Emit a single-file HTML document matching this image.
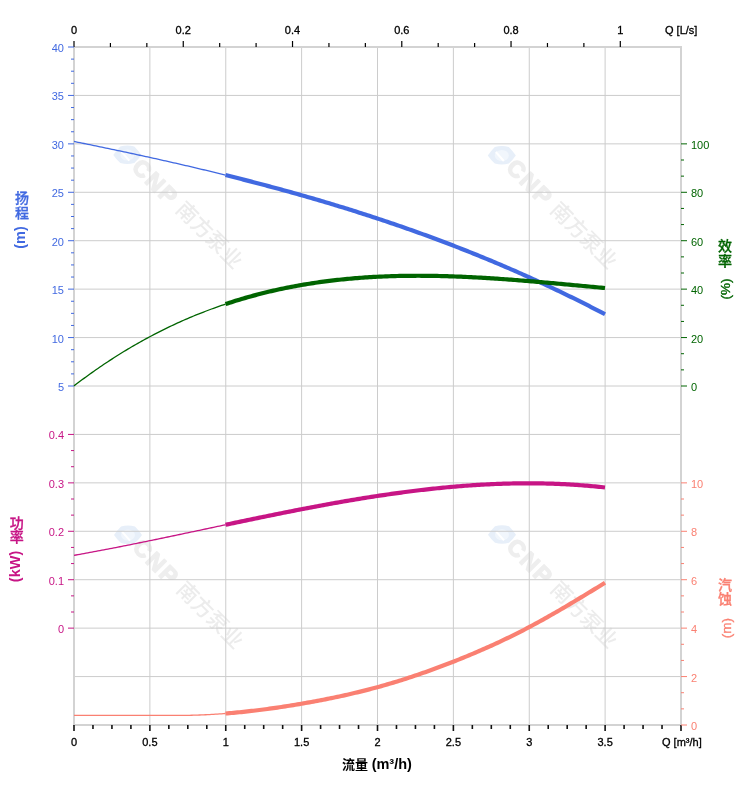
<!DOCTYPE html>
<html><head><meta charset="utf-8"><title>chart</title>
<style>html,body{margin:0;padding:0;background:#fff;}svg{display:block;}</style>
</head><body>
<svg width="752" height="797" viewBox="0 0 752 797">
<rect width="752" height="797" fill="#fff"/>
<g transform="translate(127.3,154.6)"><path d="M-14,0.5 Q-11,-4 -7,-8 Q0,-10 7,-8 Q11,-4 14,0.5 Q11,5 7,8.5 Q0,10.5 -7,8.5 Q-11,5 -14,0.5Z" fill="#e7eff9"/><ellipse cx="0" cy="0.5" rx="7" ry="5.5" fill="#f1f6fc"/><path d="M-6,-3 L2,6" stroke="#ffffff" stroke-width="2"/><g transform="rotate(45)"><text x="12" y="7.5" font-family="'Liberation Sans', sans-serif" font-weight="bold" font-size="23" letter-spacing="2.2" fill="#eeeeee" stroke="#eeeeee" stroke-width="1.4" stroke-linejoin="round">CNP</text><text x="73" y="6.2" font-family="'Liberation Sans', 'Noto Sans CJK SC', sans-serif" font-weight="500" font-size="21" fill="#ececec">南方泵业</text></g></g>
<g transform="translate(501.8,155)"><path d="M-14,0.5 Q-11,-4 -7,-8 Q0,-10 7,-8 Q11,-4 14,0.5 Q11,5 7,8.5 Q0,10.5 -7,8.5 Q-11,5 -14,0.5Z" fill="#e7eff9"/><ellipse cx="0" cy="0.5" rx="7" ry="5.5" fill="#f1f6fc"/><path d="M-6,-3 L2,6" stroke="#ffffff" stroke-width="2"/><g transform="rotate(45)"><text x="12" y="7.5" font-family="'Liberation Sans', sans-serif" font-weight="bold" font-size="23" letter-spacing="2.2" fill="#eeeeee" stroke="#eeeeee" stroke-width="1.4" stroke-linejoin="round">CNP</text><text x="73" y="6.2" font-family="'Liberation Sans', 'Noto Sans CJK SC', sans-serif" font-weight="500" font-size="21" fill="#ececec">南方泵业</text></g></g>
<g transform="translate(128,534.6)"><path d="M-14,0.5 Q-11,-4 -7,-8 Q0,-10 7,-8 Q11,-4 14,0.5 Q11,5 7,8.5 Q0,10.5 -7,8.5 Q-11,5 -14,0.5Z" fill="#e7eff9"/><ellipse cx="0" cy="0.5" rx="7" ry="5.5" fill="#f1f6fc"/><path d="M-6,-3 L2,6" stroke="#ffffff" stroke-width="2"/><g transform="rotate(45)"><text x="12" y="7.5" font-family="'Liberation Sans', sans-serif" font-weight="bold" font-size="23" letter-spacing="2.2" fill="#eeeeee" stroke="#eeeeee" stroke-width="1.4" stroke-linejoin="round">CNP</text><text x="73" y="6.2" font-family="'Liberation Sans', 'Noto Sans CJK SC', sans-serif" font-weight="500" font-size="21" fill="#ececec">南方泵业</text></g></g>
<g transform="translate(502,534.3)"><path d="M-14,0.5 Q-11,-4 -7,-8 Q0,-10 7,-8 Q11,-4 14,0.5 Q11,5 7,8.5 Q0,10.5 -7,8.5 Q-11,5 -14,0.5Z" fill="#e7eff9"/><ellipse cx="0" cy="0.5" rx="7" ry="5.5" fill="#f1f6fc"/><path d="M-6,-3 L2,6" stroke="#ffffff" stroke-width="2"/><g transform="rotate(45)"><text x="12" y="7.5" font-family="'Liberation Sans', sans-serif" font-weight="bold" font-size="23" letter-spacing="2.2" fill="#eeeeee" stroke="#eeeeee" stroke-width="1.4" stroke-linejoin="round">CNP</text><text x="73" y="6.2" font-family="'Liberation Sans', 'Noto Sans CJK SC', sans-serif" font-weight="500" font-size="21" fill="#ececec">南方泵业</text></g></g>
<line x1="74.0" y1="95.43" x2="681.0" y2="95.43" stroke="#cccccc" stroke-width="1"/>
<line x1="74.0" y1="143.86" x2="681.0" y2="143.86" stroke="#cccccc" stroke-width="1"/>
<line x1="74.0" y1="192.29" x2="681.0" y2="192.29" stroke="#cccccc" stroke-width="1"/>
<line x1="74.0" y1="240.71" x2="681.0" y2="240.71" stroke="#cccccc" stroke-width="1"/>
<line x1="74.0" y1="289.14" x2="681.0" y2="289.14" stroke="#cccccc" stroke-width="1"/>
<line x1="74.0" y1="337.57" x2="681.0" y2="337.57" stroke="#cccccc" stroke-width="1"/>
<line x1="74.0" y1="386.00" x2="681.0" y2="386.00" stroke="#cccccc" stroke-width="1"/>
<line x1="74.0" y1="434.43" x2="681.0" y2="434.43" stroke="#cccccc" stroke-width="1"/>
<line x1="74.0" y1="482.86" x2="681.0" y2="482.86" stroke="#cccccc" stroke-width="1"/>
<line x1="74.0" y1="531.29" x2="681.0" y2="531.29" stroke="#cccccc" stroke-width="1"/>
<line x1="74.0" y1="579.71" x2="681.0" y2="579.71" stroke="#cccccc" stroke-width="1"/>
<line x1="74.0" y1="628.14" x2="681.0" y2="628.14" stroke="#cccccc" stroke-width="1"/>
<line x1="74.0" y1="676.57" x2="681.0" y2="676.57" stroke="#cccccc" stroke-width="1"/>
<line x1="149.88" y1="47.0" x2="149.88" y2="725.0" stroke="#cccccc" stroke-width="1"/>
<line x1="225.75" y1="47.0" x2="225.75" y2="725.0" stroke="#cccccc" stroke-width="1"/>
<line x1="301.62" y1="47.0" x2="301.62" y2="725.0" stroke="#cccccc" stroke-width="1"/>
<line x1="377.50" y1="47.0" x2="377.50" y2="725.0" stroke="#cccccc" stroke-width="1"/>
<line x1="453.38" y1="47.0" x2="453.38" y2="725.0" stroke="#cccccc" stroke-width="1"/>
<line x1="529.25" y1="47.0" x2="529.25" y2="725.0" stroke="#cccccc" stroke-width="1"/>
<line x1="605.12" y1="47.0" x2="605.12" y2="725.0" stroke="#cccccc" stroke-width="1"/>
<rect x="73" y="46" width="2" height="680" fill="#d3d3d3"/>
<rect x="680" y="46" width="2" height="680" fill="#d3d3d3"/>
<rect x="73" y="46" width="609" height="2" fill="#d3d3d3"/>
<rect x="73" y="724" width="609" height="2" fill="#d3d3d3"/>
<line x1="74.00" y1="41.0" x2="74.00" y2="47.0" stroke="#000" stroke-width="1.2"/>
<line x1="110.42" y1="43.0" x2="110.42" y2="47.0" stroke="#000" stroke-width="1.2"/>
<line x1="146.84" y1="43.0" x2="146.84" y2="47.0" stroke="#000" stroke-width="1.2"/>
<line x1="183.26" y1="41.0" x2="183.26" y2="47.0" stroke="#000" stroke-width="1.2"/>
<line x1="219.68" y1="43.0" x2="219.68" y2="47.0" stroke="#000" stroke-width="1.2"/>
<line x1="256.10" y1="43.0" x2="256.10" y2="47.0" stroke="#000" stroke-width="1.2"/>
<line x1="292.52" y1="41.0" x2="292.52" y2="47.0" stroke="#000" stroke-width="1.2"/>
<line x1="328.94" y1="43.0" x2="328.94" y2="47.0" stroke="#000" stroke-width="1.2"/>
<line x1="365.36" y1="43.0" x2="365.36" y2="47.0" stroke="#000" stroke-width="1.2"/>
<line x1="401.78" y1="41.0" x2="401.78" y2="47.0" stroke="#000" stroke-width="1.2"/>
<line x1="438.20" y1="43.0" x2="438.20" y2="47.0" stroke="#000" stroke-width="1.2"/>
<line x1="474.62" y1="43.0" x2="474.62" y2="47.0" stroke="#000" stroke-width="1.2"/>
<line x1="511.04" y1="41.0" x2="511.04" y2="47.0" stroke="#000" stroke-width="1.2"/>
<line x1="547.46" y1="43.0" x2="547.46" y2="47.0" stroke="#000" stroke-width="1.2"/>
<line x1="583.88" y1="43.0" x2="583.88" y2="47.0" stroke="#000" stroke-width="1.2"/>
<line x1="620.30" y1="41.0" x2="620.30" y2="47.0" stroke="#000" stroke-width="1.2"/>
<line x1="74.00" y1="725.0" x2="74.00" y2="731.0" stroke="#111" stroke-width="1.6"/>
<line x1="92.97" y1="725.0" x2="92.97" y2="729.0" stroke="#111" stroke-width="1.6"/>
<line x1="111.94" y1="725.0" x2="111.94" y2="729.0" stroke="#111" stroke-width="1.6"/>
<line x1="130.91" y1="725.0" x2="130.91" y2="729.0" stroke="#111" stroke-width="1.6"/>
<line x1="149.88" y1="725.0" x2="149.88" y2="731.0" stroke="#111" stroke-width="1.6"/>
<line x1="168.84" y1="725.0" x2="168.84" y2="729.0" stroke="#111" stroke-width="1.6"/>
<line x1="187.81" y1="725.0" x2="187.81" y2="729.0" stroke="#111" stroke-width="1.6"/>
<line x1="206.78" y1="725.0" x2="206.78" y2="729.0" stroke="#111" stroke-width="1.6"/>
<line x1="225.75" y1="725.0" x2="225.75" y2="731.0" stroke="#111" stroke-width="1.6"/>
<line x1="244.72" y1="725.0" x2="244.72" y2="729.0" stroke="#111" stroke-width="1.6"/>
<line x1="263.69" y1="725.0" x2="263.69" y2="729.0" stroke="#111" stroke-width="1.6"/>
<line x1="282.66" y1="725.0" x2="282.66" y2="729.0" stroke="#111" stroke-width="1.6"/>
<line x1="301.62" y1="725.0" x2="301.62" y2="731.0" stroke="#111" stroke-width="1.6"/>
<line x1="320.59" y1="725.0" x2="320.59" y2="729.0" stroke="#111" stroke-width="1.6"/>
<line x1="339.56" y1="725.0" x2="339.56" y2="729.0" stroke="#111" stroke-width="1.6"/>
<line x1="358.53" y1="725.0" x2="358.53" y2="729.0" stroke="#111" stroke-width="1.6"/>
<line x1="377.50" y1="725.0" x2="377.50" y2="731.0" stroke="#111" stroke-width="1.6"/>
<line x1="396.47" y1="725.0" x2="396.47" y2="729.0" stroke="#111" stroke-width="1.6"/>
<line x1="415.44" y1="725.0" x2="415.44" y2="729.0" stroke="#111" stroke-width="1.6"/>
<line x1="434.41" y1="725.0" x2="434.41" y2="729.0" stroke="#111" stroke-width="1.6"/>
<line x1="453.38" y1="725.0" x2="453.38" y2="731.0" stroke="#111" stroke-width="1.6"/>
<line x1="472.34" y1="725.0" x2="472.34" y2="729.0" stroke="#111" stroke-width="1.6"/>
<line x1="491.31" y1="725.0" x2="491.31" y2="729.0" stroke="#111" stroke-width="1.6"/>
<line x1="510.28" y1="725.0" x2="510.28" y2="729.0" stroke="#111" stroke-width="1.6"/>
<line x1="529.25" y1="725.0" x2="529.25" y2="731.0" stroke="#111" stroke-width="1.6"/>
<line x1="548.22" y1="725.0" x2="548.22" y2="729.0" stroke="#111" stroke-width="1.6"/>
<line x1="567.19" y1="725.0" x2="567.19" y2="729.0" stroke="#111" stroke-width="1.6"/>
<line x1="586.16" y1="725.0" x2="586.16" y2="729.0" stroke="#111" stroke-width="1.6"/>
<line x1="605.12" y1="725.0" x2="605.12" y2="731.0" stroke="#111" stroke-width="1.6"/>
<line x1="624.09" y1="725.0" x2="624.09" y2="729.0" stroke="#111" stroke-width="1.6"/>
<line x1="643.06" y1="725.0" x2="643.06" y2="729.0" stroke="#111" stroke-width="1.6"/>
<line x1="662.03" y1="725.0" x2="662.03" y2="729.0" stroke="#111" stroke-width="1.6"/>
<line x1="681.00" y1="725.0" x2="681.00" y2="731.0" stroke="#111" stroke-width="1.6"/>
<line x1="68.0" y1="47.00" x2="74.0" y2="47.00" stroke="#4169e1" stroke-width="1"/>
<line x1="71.0" y1="59.11" x2="74.0" y2="59.11" stroke="#4169e1" stroke-width="1"/>
<line x1="71.0" y1="71.21" x2="74.0" y2="71.21" stroke="#4169e1" stroke-width="1"/>
<line x1="71.0" y1="83.32" x2="74.0" y2="83.32" stroke="#4169e1" stroke-width="1"/>
<line x1="68.0" y1="95.43" x2="74.0" y2="95.43" stroke="#4169e1" stroke-width="1"/>
<line x1="71.0" y1="107.54" x2="74.0" y2="107.54" stroke="#4169e1" stroke-width="1"/>
<line x1="71.0" y1="119.64" x2="74.0" y2="119.64" stroke="#4169e1" stroke-width="1"/>
<line x1="71.0" y1="131.75" x2="74.0" y2="131.75" stroke="#4169e1" stroke-width="1"/>
<line x1="68.0" y1="143.86" x2="74.0" y2="143.86" stroke="#4169e1" stroke-width="1"/>
<line x1="71.0" y1="155.96" x2="74.0" y2="155.96" stroke="#4169e1" stroke-width="1"/>
<line x1="71.0" y1="168.07" x2="74.0" y2="168.07" stroke="#4169e1" stroke-width="1"/>
<line x1="71.0" y1="180.18" x2="74.0" y2="180.18" stroke="#4169e1" stroke-width="1"/>
<line x1="68.0" y1="192.29" x2="74.0" y2="192.29" stroke="#4169e1" stroke-width="1"/>
<line x1="71.0" y1="204.39" x2="74.0" y2="204.39" stroke="#4169e1" stroke-width="1"/>
<line x1="71.0" y1="216.50" x2="74.0" y2="216.50" stroke="#4169e1" stroke-width="1"/>
<line x1="71.0" y1="228.61" x2="74.0" y2="228.61" stroke="#4169e1" stroke-width="1"/>
<line x1="68.0" y1="240.71" x2="74.0" y2="240.71" stroke="#4169e1" stroke-width="1"/>
<line x1="71.0" y1="252.82" x2="74.0" y2="252.82" stroke="#4169e1" stroke-width="1"/>
<line x1="71.0" y1="264.93" x2="74.0" y2="264.93" stroke="#4169e1" stroke-width="1"/>
<line x1="71.0" y1="277.04" x2="74.0" y2="277.04" stroke="#4169e1" stroke-width="1"/>
<line x1="68.0" y1="289.14" x2="74.0" y2="289.14" stroke="#4169e1" stroke-width="1"/>
<line x1="71.0" y1="301.25" x2="74.0" y2="301.25" stroke="#4169e1" stroke-width="1"/>
<line x1="71.0" y1="313.36" x2="74.0" y2="313.36" stroke="#4169e1" stroke-width="1"/>
<line x1="71.0" y1="325.46" x2="74.0" y2="325.46" stroke="#4169e1" stroke-width="1"/>
<line x1="68.0" y1="337.57" x2="74.0" y2="337.57" stroke="#4169e1" stroke-width="1"/>
<line x1="71.0" y1="349.68" x2="74.0" y2="349.68" stroke="#4169e1" stroke-width="1"/>
<line x1="71.0" y1="361.79" x2="74.0" y2="361.79" stroke="#4169e1" stroke-width="1"/>
<line x1="71.0" y1="373.89" x2="74.0" y2="373.89" stroke="#4169e1" stroke-width="1"/>
<line x1="68.0" y1="386.00" x2="74.0" y2="386.00" stroke="#4169e1" stroke-width="1"/>
<line x1="68.0" y1="434.43" x2="74.0" y2="434.43" stroke="#c71585" stroke-width="1"/>
<line x1="71.0" y1="450.57" x2="74.0" y2="450.57" stroke="#c71585" stroke-width="1"/>
<line x1="71.0" y1="466.71" x2="74.0" y2="466.71" stroke="#c71585" stroke-width="1"/>
<line x1="68.0" y1="482.86" x2="74.0" y2="482.86" stroke="#c71585" stroke-width="1"/>
<line x1="71.0" y1="499.00" x2="74.0" y2="499.00" stroke="#c71585" stroke-width="1"/>
<line x1="71.0" y1="515.14" x2="74.0" y2="515.14" stroke="#c71585" stroke-width="1"/>
<line x1="68.0" y1="531.29" x2="74.0" y2="531.29" stroke="#c71585" stroke-width="1"/>
<line x1="71.0" y1="547.43" x2="74.0" y2="547.43" stroke="#c71585" stroke-width="1"/>
<line x1="71.0" y1="563.57" x2="74.0" y2="563.57" stroke="#c71585" stroke-width="1"/>
<line x1="68.0" y1="579.71" x2="74.0" y2="579.71" stroke="#c71585" stroke-width="1"/>
<line x1="71.0" y1="595.86" x2="74.0" y2="595.86" stroke="#c71585" stroke-width="1"/>
<line x1="71.0" y1="612.00" x2="74.0" y2="612.00" stroke="#c71585" stroke-width="1"/>
<line x1="68.0" y1="628.14" x2="74.0" y2="628.14" stroke="#c71585" stroke-width="1"/>
<line x1="681.0" y1="143.86" x2="687.0" y2="143.86" stroke="#006400" stroke-width="1"/>
<line x1="681.0" y1="160.00" x2="684.0" y2="160.00" stroke="#006400" stroke-width="1"/>
<line x1="681.0" y1="176.14" x2="684.0" y2="176.14" stroke="#006400" stroke-width="1"/>
<line x1="681.0" y1="192.29" x2="687.0" y2="192.29" stroke="#006400" stroke-width="1"/>
<line x1="681.0" y1="208.43" x2="684.0" y2="208.43" stroke="#006400" stroke-width="1"/>
<line x1="681.0" y1="224.57" x2="684.0" y2="224.57" stroke="#006400" stroke-width="1"/>
<line x1="681.0" y1="240.71" x2="687.0" y2="240.71" stroke="#006400" stroke-width="1"/>
<line x1="681.0" y1="256.86" x2="684.0" y2="256.86" stroke="#006400" stroke-width="1"/>
<line x1="681.0" y1="273.00" x2="684.0" y2="273.00" stroke="#006400" stroke-width="1"/>
<line x1="681.0" y1="289.14" x2="687.0" y2="289.14" stroke="#006400" stroke-width="1"/>
<line x1="681.0" y1="305.29" x2="684.0" y2="305.29" stroke="#006400" stroke-width="1"/>
<line x1="681.0" y1="321.43" x2="684.0" y2="321.43" stroke="#006400" stroke-width="1"/>
<line x1="681.0" y1="337.57" x2="687.0" y2="337.57" stroke="#006400" stroke-width="1"/>
<line x1="681.0" y1="353.71" x2="684.0" y2="353.71" stroke="#006400" stroke-width="1"/>
<line x1="681.0" y1="369.86" x2="684.0" y2="369.86" stroke="#006400" stroke-width="1"/>
<line x1="681.0" y1="386.00" x2="687.0" y2="386.00" stroke="#006400" stroke-width="1"/>
<line x1="681.0" y1="482.86" x2="687.0" y2="482.86" stroke="#fa8072" stroke-width="1"/>
<line x1="681.0" y1="499.00" x2="684.0" y2="499.00" stroke="#fa8072" stroke-width="1"/>
<line x1="681.0" y1="515.14" x2="684.0" y2="515.14" stroke="#fa8072" stroke-width="1"/>
<line x1="681.0" y1="531.29" x2="687.0" y2="531.29" stroke="#fa8072" stroke-width="1"/>
<line x1="681.0" y1="547.43" x2="684.0" y2="547.43" stroke="#fa8072" stroke-width="1"/>
<line x1="681.0" y1="563.57" x2="684.0" y2="563.57" stroke="#fa8072" stroke-width="1"/>
<line x1="681.0" y1="579.71" x2="687.0" y2="579.71" stroke="#fa8072" stroke-width="1"/>
<line x1="681.0" y1="595.86" x2="684.0" y2="595.86" stroke="#fa8072" stroke-width="1"/>
<line x1="681.0" y1="612.00" x2="684.0" y2="612.00" stroke="#fa8072" stroke-width="1"/>
<line x1="681.0" y1="628.14" x2="687.0" y2="628.14" stroke="#fa8072" stroke-width="1"/>
<line x1="681.0" y1="644.29" x2="684.0" y2="644.29" stroke="#fa8072" stroke-width="1"/>
<line x1="681.0" y1="660.43" x2="684.0" y2="660.43" stroke="#fa8072" stroke-width="1"/>
<line x1="681.0" y1="676.57" x2="687.0" y2="676.57" stroke="#fa8072" stroke-width="1"/>
<line x1="681.0" y1="692.71" x2="684.0" y2="692.71" stroke="#fa8072" stroke-width="1"/>
<line x1="681.0" y1="708.86" x2="684.0" y2="708.86" stroke="#fa8072" stroke-width="1"/>
<line x1="681.0" y1="725.00" x2="687.0" y2="725.00" stroke="#fa8072" stroke-width="1"/>
<text x="74.00" y="34" font-family="'Liberation Sans', Arial, sans-serif" font-size="11" fill="#000" stroke="#000" stroke-width="0.3" text-anchor="middle">0</text>
<text x="183.26" y="34" font-family="'Liberation Sans', Arial, sans-serif" font-size="11" fill="#000" stroke="#000" stroke-width="0.3" text-anchor="middle">0.2</text>
<text x="292.52" y="34" font-family="'Liberation Sans', Arial, sans-serif" font-size="11" fill="#000" stroke="#000" stroke-width="0.3" text-anchor="middle">0.4</text>
<text x="401.78" y="34" font-family="'Liberation Sans', Arial, sans-serif" font-size="11" fill="#000" stroke="#000" stroke-width="0.3" text-anchor="middle">0.6</text>
<text x="511.04" y="34" font-family="'Liberation Sans', Arial, sans-serif" font-size="11" fill="#000" stroke="#000" stroke-width="0.3" text-anchor="middle">0.8</text>
<text x="620.30" y="34" font-family="'Liberation Sans', Arial, sans-serif" font-size="11" fill="#000" stroke="#000" stroke-width="0.3" text-anchor="middle">1</text>
<text x="665" y="34" font-family="'Liberation Sans', Arial, sans-serif" font-size="11" fill="#000" stroke="#000" stroke-width="0.3">Q [L/s]</text>
<text x="74.00" y="746" font-family="'Liberation Sans', Arial, sans-serif" font-size="11" fill="#000" stroke="#000" stroke-width="0.3" text-anchor="middle">0</text>
<text x="149.88" y="746" font-family="'Liberation Sans', Arial, sans-serif" font-size="11" fill="#000" stroke="#000" stroke-width="0.3" text-anchor="middle">0.5</text>
<text x="225.75" y="746" font-family="'Liberation Sans', Arial, sans-serif" font-size="11" fill="#000" stroke="#000" stroke-width="0.3" text-anchor="middle">1</text>
<text x="301.62" y="746" font-family="'Liberation Sans', Arial, sans-serif" font-size="11" fill="#000" stroke="#000" stroke-width="0.3" text-anchor="middle">1.5</text>
<text x="377.50" y="746" font-family="'Liberation Sans', Arial, sans-serif" font-size="11" fill="#000" stroke="#000" stroke-width="0.3" text-anchor="middle">2</text>
<text x="453.38" y="746" font-family="'Liberation Sans', Arial, sans-serif" font-size="11" fill="#000" stroke="#000" stroke-width="0.3" text-anchor="middle">2.5</text>
<text x="529.25" y="746" font-family="'Liberation Sans', Arial, sans-serif" font-size="11" fill="#000" stroke="#000" stroke-width="0.3" text-anchor="middle">3</text>
<text x="605.12" y="746" font-family="'Liberation Sans', Arial, sans-serif" font-size="11" fill="#000" stroke="#000" stroke-width="0.3" text-anchor="middle">3.5</text>
<text x="662" y="746" font-family="'Liberation Sans', Arial, sans-serif" font-size="11" fill="#000" stroke="#000" stroke-width="0.3">Q [m³/h]</text>
<text x="64" y="52.00" font-family="'Liberation Sans', Arial, sans-serif" font-size="11" fill="#4169e1" text-anchor="end">40</text>
<text x="64" y="100.43" font-family="'Liberation Sans', Arial, sans-serif" font-size="11" fill="#4169e1" text-anchor="end">35</text>
<text x="64" y="148.86" font-family="'Liberation Sans', Arial, sans-serif" font-size="11" fill="#4169e1" text-anchor="end">30</text>
<text x="64" y="197.29" font-family="'Liberation Sans', Arial, sans-serif" font-size="11" fill="#4169e1" text-anchor="end">25</text>
<text x="64" y="245.71" font-family="'Liberation Sans', Arial, sans-serif" font-size="11" fill="#4169e1" text-anchor="end">20</text>
<text x="64" y="294.14" font-family="'Liberation Sans', Arial, sans-serif" font-size="11" fill="#4169e1" text-anchor="end">15</text>
<text x="64" y="342.57" font-family="'Liberation Sans', Arial, sans-serif" font-size="11" fill="#4169e1" text-anchor="end">10</text>
<text x="64" y="391.00" font-family="'Liberation Sans', Arial, sans-serif" font-size="11" fill="#4169e1" text-anchor="end">5</text>
<text x="64" y="439.43" font-family="'Liberation Sans', Arial, sans-serif" font-size="11" fill="#c71585" text-anchor="end">0.4</text>
<text x="64" y="487.86" font-family="'Liberation Sans', Arial, sans-serif" font-size="11" fill="#c71585" text-anchor="end">0.3</text>
<text x="64" y="536.29" font-family="'Liberation Sans', Arial, sans-serif" font-size="11" fill="#c71585" text-anchor="end">0.2</text>
<text x="64" y="584.71" font-family="'Liberation Sans', Arial, sans-serif" font-size="11" fill="#c71585" text-anchor="end">0.1</text>
<text x="64" y="633.14" font-family="'Liberation Sans', Arial, sans-serif" font-size="11" fill="#c71585" text-anchor="end">0</text>
<text x="691" y="148.86" font-family="'Liberation Sans', Arial, sans-serif" font-size="11" fill="#006400">100</text>
<text x="691" y="197.29" font-family="'Liberation Sans', Arial, sans-serif" font-size="11" fill="#006400">80</text>
<text x="691" y="245.71" font-family="'Liberation Sans', Arial, sans-serif" font-size="11" fill="#006400">60</text>
<text x="691" y="294.14" font-family="'Liberation Sans', Arial, sans-serif" font-size="11" fill="#006400">40</text>
<text x="691" y="342.57" font-family="'Liberation Sans', Arial, sans-serif" font-size="11" fill="#006400">20</text>
<text x="691" y="391.00" font-family="'Liberation Sans', Arial, sans-serif" font-size="11" fill="#006400">0</text>
<text x="691" y="487.86" font-family="'Liberation Sans', Arial, sans-serif" font-size="11" fill="#fa8072">10</text>
<text x="691" y="536.29" font-family="'Liberation Sans', Arial, sans-serif" font-size="11" fill="#fa8072">8</text>
<text x="691" y="584.71" font-family="'Liberation Sans', Arial, sans-serif" font-size="11" fill="#fa8072">6</text>
<text x="691" y="633.14" font-family="'Liberation Sans', Arial, sans-serif" font-size="11" fill="#fa8072">4</text>
<text x="691" y="681.57" font-family="'Liberation Sans', Arial, sans-serif" font-size="11" fill="#fa8072">2</text>
<text x="691" y="730.00" font-family="'Liberation Sans', Arial, sans-serif" font-size="11" fill="#fa8072">0</text>
<text x="22.1" y="203.0" font-family="'Liberation Sans', 'Noto Sans CJK SC', sans-serif" font-weight="500" font-size="14" fill="#4169e1" stroke="#4169e1" stroke-width="0.3" text-anchor="middle">扬</text>
<text x="22.1" y="218.0" font-family="'Liberation Sans', 'Noto Sans CJK SC', sans-serif" font-weight="500" font-size="14" fill="#4169e1" stroke="#4169e1" stroke-width="0.3" text-anchor="middle">程</text>
<text transform="translate(25.17,237.50) rotate(-90)" font-family="'Liberation Sans', sans-serif" font-weight="bold" font-size="14.5" fill="#4169e1" stroke="#4169e1" stroke-width="0" text-anchor="middle">(m)</text>
<text x="16.8" y="527.7" font-family="'Liberation Sans', 'Noto Sans CJK SC', sans-serif" font-weight="500" font-size="14" fill="#c71585" stroke="#c71585" stroke-width="0.3" text-anchor="middle">功</text>
<text x="16.8" y="542.0" font-family="'Liberation Sans', 'Noto Sans CJK SC', sans-serif" font-weight="500" font-size="14" fill="#c71585" stroke="#c71585" stroke-width="0.3" text-anchor="middle">率</text>
<text transform="translate(20.27,566.50) rotate(-90)" font-family="'Liberation Sans', sans-serif" font-weight="bold" font-size="14.5" fill="#c71585" stroke="#c71585" stroke-width="0" text-anchor="middle">(kW)</text>
<text x="724.9" y="251.2" font-family="'Liberation Sans', 'Noto Sans CJK SC', sans-serif" font-weight="500" font-size="14" fill="#006400" stroke="#006400" stroke-width="0.3" text-anchor="middle">效</text>
<text x="724.9" y="266.1" font-family="'Liberation Sans', 'Noto Sans CJK SC', sans-serif" font-weight="500" font-size="14" fill="#006400" stroke="#006400" stroke-width="0.3" text-anchor="middle">率</text>
<text transform="translate(730.41,288.90) rotate(-90)" font-family="'Liberation Sans', sans-serif" font-weight="normal" font-size="13.5" fill="#006400" stroke="#006400" stroke-width="0.35" text-anchor="middle">(%)</text>
<text x="725.1" y="590.0" font-family="'Liberation Sans', 'Noto Sans CJK SC', sans-serif" font-weight="500" font-size="14" fill="#fa8072" stroke="#fa8072" stroke-width="0.3" text-anchor="middle">汽</text>
<text x="725.1" y="603.8" font-family="'Liberation Sans', 'Noto Sans CJK SC', sans-serif" font-weight="500" font-size="14" fill="#fa8072" stroke="#fa8072" stroke-width="0.3" text-anchor="middle">蚀</text>
<text transform="translate(730.51,628.00) rotate(-90)" font-family="'Liberation Sans', sans-serif" font-weight="normal" font-size="13.5" fill="#fa8072" stroke="#fa8072" stroke-width="0.35" text-anchor="middle">(m)</text>
<text x="342" y="769" font-family="'Liberation Sans', 'Noto Sans CJK SC', sans-serif" font-weight="bold" font-size="13" fill="#000">流量 <tspan font-size="14.5">(m³/h)</tspan></text>
<path d="M74.00,715.30L75.99,715.30L77.99,715.30L79.98,715.30L81.97,715.30L83.97,715.30L85.96,715.30L87.95,715.29L89.95,715.29L91.94,715.29L93.93,715.29L95.93,715.29L97.92,715.29L99.91,715.29L101.91,715.29L103.90,715.30L105.89,715.30L107.89,715.30L109.88,715.30L111.88,715.30L113.87,715.30L115.86,715.30L117.86,715.31L119.85,715.31L121.84,715.31L123.84,715.32L125.83,715.32L127.82,715.32L129.82,715.33L131.81,715.33L133.80,715.34L135.80,715.34L137.79,715.35L139.78,715.36L141.78,715.36L143.77,715.37L145.76,715.38L147.76,715.39L149.75,715.40L151.74,715.41L153.74,715.42L155.73,715.43L157.72,715.44L159.72,715.45L161.71,715.46L163.70,715.46L165.70,715.47L167.69,715.47L169.68,715.47L171.68,715.47L173.67,715.47L175.66,715.46L177.66,715.45L179.65,715.43L181.64,715.42L183.64,715.39L185.63,715.36L187.62,715.33L189.62,715.29L191.61,715.25L193.61,715.20L195.60,715.15L197.59,715.08L199.59,715.02L201.58,714.94L203.57,714.86L205.57,714.77L207.56,714.67L209.55,714.56L211.55,714.45L213.54,714.34L215.53,714.21L217.53,714.08L219.52,713.95L221.51,713.80L223.51,713.65L225.50,713.50" fill="none" stroke="#fa8072" stroke-width="1.3"/>
<path d="M225.50,713.50L227.50,713.34L229.49,713.17L231.49,713.00L233.49,712.82L235.49,712.64L237.48,712.45L239.48,712.25L241.48,712.05L243.48,711.84L245.47,711.63L247.47,711.41L249.47,711.19L251.47,710.96L253.46,710.73L255.46,710.49L257.46,710.25L259.46,710.00L261.45,709.75L263.45,709.49L265.45,709.23L267.44,708.96L269.44,708.69L271.44,708.41L273.44,708.13L275.43,707.84L277.43,707.55L279.43,707.26L281.43,706.96L283.42,706.65L285.42,706.34L287.42,706.03L289.42,705.71L291.41,705.39L293.41,705.07L295.41,704.74L297.41,704.41L299.40,704.07L301.40,703.73L303.40,703.39L305.39,703.04L307.39,702.69L309.39,702.33L311.39,701.97L313.38,701.61L315.38,701.24L317.38,700.87L319.38,700.49L321.37,700.11L323.37,699.72L325.37,699.33L327.37,698.93L329.36,698.53L331.36,698.13L333.36,697.71L335.36,697.30L337.35,696.88L339.35,696.45L341.35,696.02L343.34,695.58L345.34,695.14L347.34,694.69L349.34,694.23L351.33,693.77L353.33,693.31L355.33,692.83L357.33,692.36L359.32,691.87L361.32,691.38L363.32,690.88L365.32,690.38L367.31,689.87L369.31,689.35L371.31,688.83L373.31,688.30L375.30,687.76L377.30,687.22L379.30,686.67L381.29,686.11L383.29,685.54L385.29,684.97L387.29,684.39L389.28,683.81L391.28,683.22L393.28,682.62L395.28,682.01L397.27,681.40L399.27,680.78L401.27,680.15L403.27,679.52L405.26,678.88L407.26,678.24L409.26,677.59L411.26,676.93L413.25,676.27L415.25,675.60L417.25,674.92L419.24,674.24L421.24,673.55L423.24,672.85L425.24,672.15L427.23,671.44L429.23,670.73L431.23,670.01L433.23,669.29L435.22,668.56L437.22,667.82L439.22,667.08L441.22,666.33L443.21,665.58L445.21,664.82L447.21,664.05L449.21,663.28L451.20,662.50L453.20,661.72L455.20,660.93L457.19,660.14L459.19,659.34L461.19,658.54L463.19,657.73L465.18,656.91L467.18,656.09L469.18,655.26L471.18,654.43L473.17,653.59L475.17,652.74L477.17,651.89L479.17,651.03L481.16,650.16L483.16,649.28L485.16,648.40L487.16,647.52L489.15,646.62L491.15,645.72L493.15,644.81L495.14,643.90L497.14,642.98L499.14,642.05L501.14,641.11L503.13,640.16L505.13,639.21L507.13,638.25L509.13,637.28L511.12,636.31L513.12,635.32L515.12,634.33L517.12,633.33L519.11,632.32L521.11,631.30L523.11,630.28L525.11,629.24L527.10,628.20L529.10,627.15L531.10,626.09L533.09,625.02L535.09,623.94L537.09,622.86L539.09,621.76L541.08,620.66L543.08,619.55L545.08,618.44L547.08,617.32L549.07,616.19L551.07,615.05L553.07,613.91L555.07,612.76L557.06,611.61L559.06,610.45L561.06,609.29L563.06,608.12L565.05,606.94L567.05,605.77L569.05,604.58L571.04,603.39L573.04,602.20L575.04,601.01L577.04,599.81L579.03,598.61L581.03,597.40L583.03,596.20L585.03,594.99L587.02,593.78L589.02,592.56L591.02,591.34L593.02,590.13L595.01,588.91L597.01,587.69L599.01,586.47L601.01,585.24L603.00,584.02L605.00,582.80" fill="none" stroke="#fa8072" stroke-width="4.2" stroke-linecap="butt" stroke-linejoin="round"/>
<path d="M74.00,555.35L75.99,554.99L77.99,554.64L79.98,554.28L81.97,553.92L83.97,553.56L85.96,553.20L87.95,552.83L89.95,552.47L91.94,552.10L93.93,551.73L95.93,551.36L97.92,550.98L99.91,550.60L101.91,550.23L103.90,549.85L105.89,549.47L107.89,549.08L109.88,548.70L111.88,548.31L113.87,547.93L115.86,547.54L117.86,547.15L119.85,546.75L121.84,546.36L123.84,545.97L125.83,545.57L127.82,545.17L129.82,544.77L131.81,544.38L133.80,543.97L135.80,543.57L137.79,543.17L139.78,542.76L141.78,542.36L143.77,541.95L145.76,541.54L147.76,541.14L149.75,540.73L151.74,540.32L153.74,539.91L155.73,539.49L157.72,539.08L159.72,538.67L161.71,538.25L163.70,537.84L165.70,537.42L167.69,537.00L169.68,536.59L171.68,536.17L173.67,535.75L175.66,535.33L177.66,534.91L179.65,534.49L181.64,534.07L183.64,533.65L185.63,533.23L187.62,532.81L189.62,532.39L191.61,531.97L193.61,531.54L195.60,531.12L197.59,530.70L199.59,530.28L201.58,529.85L203.57,529.43L205.57,529.01L207.56,528.59L209.55,528.16L211.55,527.74L213.54,527.32L215.53,526.89L217.53,526.47L219.52,526.05L221.51,525.63L223.51,525.21L225.50,524.78" fill="none" stroke="#c71585" stroke-width="1.3"/>
<path d="M225.50,524.78L227.50,524.36L229.49,523.94L231.49,523.52L233.49,523.10L235.49,522.68L237.48,522.26L239.48,521.84L241.48,521.42L243.48,521.00L245.47,520.58L247.47,520.17L249.47,519.75L251.47,519.33L253.46,518.92L255.46,518.51L257.46,518.09L259.46,517.68L261.45,517.27L263.45,516.86L265.45,516.45L267.44,516.04L269.44,515.63L271.44,515.22L273.44,514.82L275.43,514.41L277.43,514.01L279.43,513.61L281.43,513.21L283.42,512.81L285.42,512.41L287.42,512.01L289.42,511.61L291.41,511.22L293.41,510.83L295.41,510.43L297.41,510.04L299.40,509.65L301.40,509.27L303.40,508.88L305.39,508.50L307.39,508.11L309.39,507.73L311.39,507.35L313.38,506.98L315.38,506.60L317.38,506.23L319.38,505.85L321.37,505.48L323.37,505.11L325.37,504.75L327.37,504.38L329.36,504.02L331.36,503.66L333.36,503.30L335.36,502.94L337.35,502.59L339.35,502.24L341.35,501.89L343.34,501.54L345.34,501.19L347.34,500.85L349.34,500.51L351.33,500.17L353.33,499.83L355.33,499.50L357.33,499.17L359.32,498.84L361.32,498.51L363.32,498.19L365.32,497.87L367.31,497.55L369.31,497.23L371.31,496.92L373.31,496.61L375.30,496.30L377.30,495.99L379.30,495.69L381.29,495.39L383.29,495.09L385.29,494.80L387.29,494.51L389.28,494.22L391.28,493.93L393.28,493.65L395.28,493.37L397.27,493.09L399.27,492.82L401.27,492.55L403.27,492.28L405.26,492.02L407.26,491.76L409.26,491.50L411.26,491.25L413.25,491.00L415.25,490.75L417.25,490.51L419.24,490.27L421.24,490.03L423.24,489.80L425.24,489.57L427.23,489.34L429.23,489.12L431.23,488.90L433.23,488.69L435.22,488.47L437.22,488.27L439.22,488.06L441.22,487.86L443.21,487.67L445.21,487.47L447.21,487.28L449.21,487.10L451.20,486.92L453.20,486.74L455.20,486.57L457.19,486.40L459.19,486.24L461.19,486.08L463.19,485.92L465.18,485.77L467.18,485.62L469.18,485.48L471.18,485.34L473.17,485.20L475.17,485.07L477.17,484.95L479.17,484.82L481.16,484.71L483.16,484.59L485.16,484.48L487.16,484.38L489.15,484.28L491.15,484.19L493.15,484.10L495.14,484.01L497.14,483.93L499.14,483.85L501.14,483.78L503.13,483.72L505.13,483.66L507.13,483.60L509.13,483.55L511.12,483.50L513.12,483.46L515.12,483.42L517.12,483.39L519.11,483.36L521.11,483.34L523.11,483.33L525.11,483.31L527.10,483.31L529.10,483.31L531.10,483.31L533.09,483.32L535.09,483.34L537.09,483.36L539.09,483.38L541.08,483.41L543.08,483.45L545.08,483.49L547.08,483.54L549.07,483.59L551.07,483.65L553.07,483.72L555.07,483.79L557.06,483.86L559.06,483.94L561.06,484.03L563.06,484.12L565.05,484.22L567.05,484.33L569.05,484.44L571.04,484.55L573.04,484.68L575.04,484.81L577.04,484.94L579.03,485.08L581.03,485.23L583.03,485.38L585.03,485.54L587.02,485.70L589.02,485.87L591.02,486.05L593.02,486.24L595.01,486.43L597.01,486.62L599.01,486.82L601.01,487.03L603.00,487.25L605.00,487.47" fill="none" stroke="#c71585" stroke-width="4.2" stroke-linecap="butt" stroke-linejoin="round"/>
<path d="M74.00,141.47L75.99,141.87L77.99,142.28L79.98,142.68L81.97,143.09L83.97,143.49L85.96,143.90L87.95,144.31L89.95,144.72L91.94,145.13L93.93,145.54L95.93,145.95L97.92,146.36L99.91,146.78L101.91,147.19L103.90,147.61L105.89,148.02L107.89,148.44L109.88,148.86L111.88,149.27L113.87,149.69L115.86,150.11L117.86,150.54L119.85,150.96L121.84,151.38L123.84,151.81L125.83,152.23L127.82,152.66L129.82,153.08L131.81,153.51L133.80,153.94L135.80,154.37L137.79,154.81L139.78,155.24L141.78,155.67L143.77,156.11L145.76,156.54L147.76,156.98L149.75,157.42L151.74,157.86L153.74,158.30L155.73,158.74L157.72,159.19L159.72,159.63L161.71,160.08L163.70,160.52L165.70,160.97L167.69,161.42L169.68,161.87L171.68,162.32L173.67,162.78L175.66,163.23L177.66,163.69L179.65,164.15L181.64,164.61L183.64,165.07L185.63,165.53L187.62,165.99L189.62,166.46L191.61,166.92L193.61,167.39L195.60,167.86L197.59,168.33L199.59,168.80L201.58,169.27L203.57,169.75L205.57,170.23L207.56,170.70L209.55,171.18L211.55,171.66L213.54,172.15L215.53,172.63L217.53,173.12L219.52,173.61L221.51,174.09L223.51,174.59L225.50,175.08" fill="none" stroke="#4169e1" stroke-width="1.3"/>
<path d="M225.50,175.08L227.50,175.57L229.49,176.07L231.49,176.57L233.49,177.07L235.49,177.57L237.48,178.07L239.48,178.58L241.48,179.09L243.48,179.60L245.47,180.11L247.47,180.62L249.47,181.13L251.47,181.65L253.46,182.17L255.46,182.69L257.46,183.21L259.46,183.74L261.45,184.26L263.45,184.79L265.45,185.32L267.44,185.85L269.44,186.38L271.44,186.92L273.44,187.46L275.43,188.00L277.43,188.54L279.43,189.08L281.43,189.63L283.42,190.17L285.42,190.72L287.42,191.28L289.42,191.83L291.41,192.38L293.41,192.94L295.41,193.50L297.41,194.07L299.40,194.63L301.40,195.20L303.40,195.76L305.39,196.34L307.39,196.91L309.39,197.48L311.39,198.06L313.38,198.64L315.38,199.22L317.38,199.81L319.38,200.39L321.37,200.98L323.37,201.57L325.37,202.17L327.37,202.76L329.36,203.36L331.36,203.96L333.36,204.57L335.36,205.17L337.35,205.78L339.35,206.39L341.35,207.00L343.34,207.62L345.34,208.23L347.34,208.85L349.34,209.48L351.33,210.10L353.33,210.73L355.33,211.36L357.33,211.99L359.32,212.63L361.32,213.26L363.32,213.90L365.32,214.55L367.31,215.19L369.31,215.84L371.31,216.49L373.31,217.14L375.30,217.80L377.30,218.46L379.30,219.12L381.29,219.78L383.29,220.45L385.29,221.12L387.29,221.79L389.28,222.46L391.28,223.14L393.28,223.82L395.28,224.50L397.27,225.19L399.27,225.88L401.27,226.57L403.27,227.26L405.26,227.96L407.26,228.66L409.26,229.36L411.26,230.07L413.25,230.78L415.25,231.49L417.25,232.20L419.24,232.92L421.24,233.64L423.24,234.36L425.24,235.09L427.23,235.82L429.23,236.55L431.23,237.29L433.23,238.02L435.22,238.77L437.22,239.51L439.22,240.26L441.22,241.01L443.21,241.76L445.21,242.52L447.21,243.28L449.21,244.04L451.20,244.81L453.20,245.58L455.20,246.35L457.19,247.12L459.19,247.90L461.19,248.68L463.19,249.47L465.18,250.26L467.18,251.05L469.18,251.84L471.18,252.64L473.17,253.44L475.17,254.25L477.17,255.06L479.17,255.87L481.16,256.68L483.16,257.50L485.16,258.32L487.16,259.15L489.15,259.97L491.15,260.80L493.15,261.64L495.14,262.48L497.14,263.32L499.14,264.17L501.14,265.01L503.13,265.87L505.13,266.72L507.13,267.58L509.13,268.44L511.12,269.31L513.12,270.18L515.12,271.05L517.12,271.93L519.11,272.81L521.11,273.69L523.11,274.58L525.11,275.47L527.10,276.37L529.10,277.27L531.10,278.17L533.09,279.08L535.09,279.99L537.09,280.90L539.09,281.82L541.08,282.74L543.08,283.66L545.08,284.59L547.08,285.52L549.07,286.46L551.07,287.40L553.07,288.34L555.07,289.29L557.06,290.24L559.06,291.19L561.06,292.15L563.06,293.11L565.05,294.08L567.05,295.05L569.05,296.03L571.04,297.00L573.04,297.99L575.04,298.97L577.04,299.96L579.03,300.96L581.03,301.96L583.03,302.96L585.03,303.96L587.02,304.97L589.02,305.99L591.02,307.01L593.02,308.03L595.01,309.05L597.01,310.09L599.01,311.12L601.01,312.16L603.00,313.20L605.00,314.25" fill="none" stroke="#4169e1" stroke-width="4.2" stroke-linecap="butt" stroke-linejoin="round"/>
<path d="M74.00,385.87L75.99,384.34L77.99,382.83L79.98,381.33L81.97,379.84L83.97,378.37L85.96,376.91L87.95,375.46L89.95,374.02L91.94,372.60L93.93,371.19L95.93,369.79L97.92,368.41L99.91,367.04L101.91,365.68L103.90,364.33L105.89,363.00L107.89,361.68L109.88,360.37L111.88,359.08L113.87,357.79L115.86,356.52L117.86,355.26L119.85,354.02L121.84,352.78L123.84,351.56L125.83,350.35L127.82,349.15L129.82,347.97L131.81,346.79L133.80,345.63L135.80,344.48L137.79,343.34L139.78,342.21L141.78,341.10L143.77,340.00L145.76,338.90L147.76,337.82L149.75,336.75L151.74,335.70L153.74,334.65L155.73,333.61L157.72,332.59L159.72,331.58L161.71,330.58L163.70,329.59L165.70,328.61L167.69,327.64L169.68,326.68L171.68,325.73L173.67,324.80L175.66,323.87L177.66,322.96L179.65,322.06L181.64,321.16L183.64,320.28L185.63,319.41L187.62,318.55L189.62,317.70L191.61,316.86L193.61,316.02L195.60,315.20L197.59,314.40L199.59,313.60L201.58,312.81L203.57,312.03L205.57,311.26L207.56,310.50L209.55,309.75L211.55,309.01L213.54,308.28L215.53,307.56L217.53,306.85L219.52,306.15L221.51,305.45L223.51,304.77L225.50,304.10" fill="none" stroke="#006400" stroke-width="1.3"/>
<path d="M225.50,304.10L227.50,303.44L229.49,302.78L231.49,302.14L233.49,301.50L235.49,300.87L237.48,300.25L239.48,299.65L241.48,299.05L243.48,298.46L245.47,297.87L247.47,297.30L249.47,296.74L251.47,296.18L253.46,295.64L255.46,295.10L257.46,294.57L259.46,294.05L261.45,293.54L263.45,293.04L265.45,292.54L267.44,292.06L269.44,291.58L271.44,291.11L273.44,290.65L275.43,290.20L277.43,289.75L279.43,289.31L281.43,288.89L283.42,288.47L285.42,288.05L287.42,287.65L289.42,287.25L291.41,286.86L293.41,286.48L295.41,286.11L297.41,285.74L299.40,285.38L301.40,285.03L303.40,284.69L305.39,284.35L307.39,284.02L309.39,283.70L311.39,283.39L313.38,283.08L315.38,282.78L317.38,282.49L319.38,282.20L321.37,281.93L323.37,281.65L325.37,281.39L327.37,281.13L329.36,280.88L331.36,280.64L333.36,280.40L335.36,280.17L337.35,279.94L339.35,279.73L341.35,279.52L343.34,279.31L345.34,279.11L347.34,278.92L349.34,278.73L351.33,278.55L353.33,278.38L355.33,278.21L357.33,278.05L359.32,277.90L361.32,277.75L363.32,277.60L365.32,277.47L367.31,277.33L369.31,277.21L371.31,277.09L373.31,276.97L375.30,276.86L377.30,276.76L379.30,276.66L381.29,276.57L383.29,276.48L385.29,276.40L387.29,276.32L389.28,276.25L391.28,276.19L393.28,276.13L395.28,276.07L397.27,276.02L399.27,275.97L401.27,275.93L403.27,275.90L405.26,275.86L407.26,275.84L409.26,275.82L411.26,275.80L413.25,275.79L415.25,275.78L417.25,275.77L419.24,275.77L421.24,275.78L423.24,275.79L425.24,275.80L427.23,275.82L429.23,275.84L431.23,275.87L433.23,275.90L435.22,275.93L437.22,275.97L439.22,276.01L441.22,276.06L443.21,276.11L445.21,276.16L447.21,276.22L449.21,276.28L451.20,276.35L453.20,276.42L455.20,276.49L457.19,276.56L459.19,276.64L461.19,276.72L463.19,276.81L465.18,276.90L467.18,276.99L469.18,277.08L471.18,277.18L473.17,277.28L475.17,277.39L477.17,277.49L479.17,277.60L481.16,277.72L483.16,277.83L485.16,277.95L487.16,278.07L489.15,278.19L491.15,278.32L493.15,278.45L495.14,278.58L497.14,278.71L499.14,278.85L501.14,278.99L503.13,279.13L505.13,279.27L507.13,279.41L509.13,279.56L511.12,279.71L513.12,279.86L515.12,280.01L517.12,280.16L519.11,280.32L521.11,280.48L523.11,280.64L525.11,280.80L527.10,280.96L529.10,281.13L531.10,281.29L533.09,281.46L535.09,281.63L537.09,281.80L539.09,281.97L541.08,282.14L543.08,282.32L545.08,282.49L547.08,282.67L549.07,282.85L551.07,283.03L553.07,283.21L555.07,283.39L557.06,283.57L559.06,283.75L561.06,283.93L563.06,284.11L565.05,284.30L567.05,284.48L569.05,284.67L571.04,284.85L573.04,285.04L575.04,285.22L577.04,285.41L579.03,285.60L581.03,285.78L583.03,285.97L585.03,286.16L587.02,286.35L589.02,286.53L591.02,286.72L593.02,286.91L595.01,287.09L597.01,287.28L599.01,287.47L601.01,287.65L603.00,287.84L605.00,288.03" fill="none" stroke="#006400" stroke-width="4.2" stroke-linecap="butt" stroke-linejoin="round"/>
</svg>
</body></html>
